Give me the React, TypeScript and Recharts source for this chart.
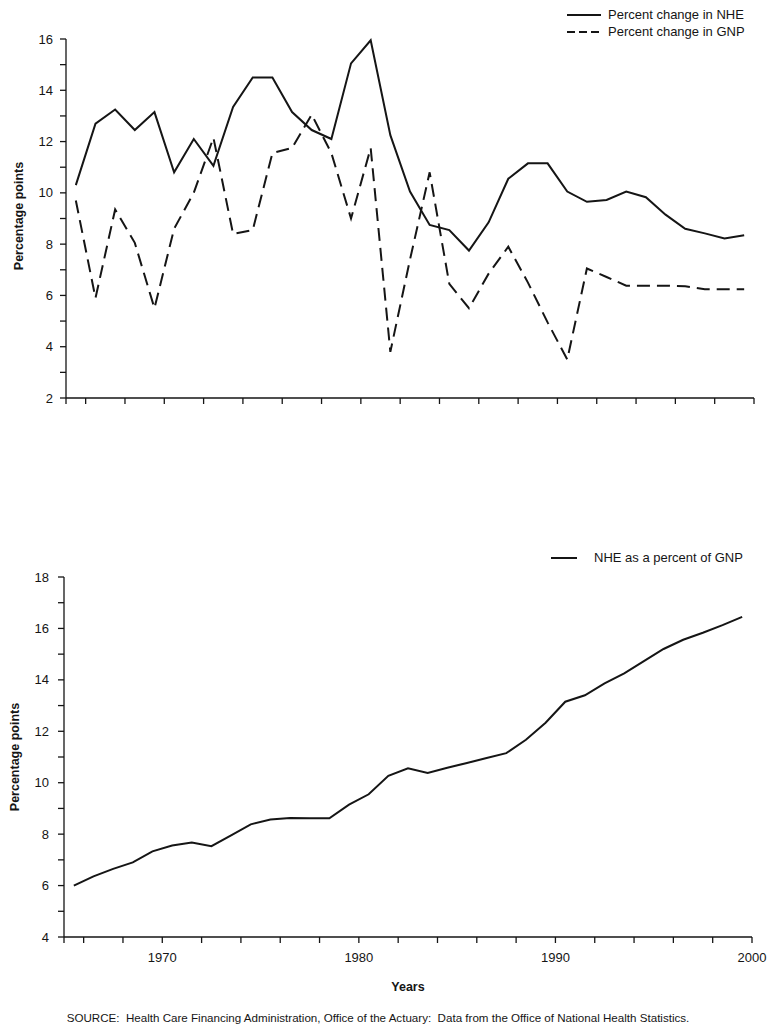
import React from 'react'
import { LineChart, Line, XAxis, YAxis } from 'recharts'

// data points sit in the middle of each year
const years = [
  1965, 1966, 1967, 1968, 1969, 1970, 1971, 1972, 1973, 1974,
  1975, 1976, 1977, 1978, 1979, 1980, 1981, 1982, 1983, 1984,
  1985, 1986, 1987, 1988, 1989, 1990, 1991, 1992, 1993, 1994,
  1995, 1996, 1997, 1998, 1999,
]

const nheChange = [
  10.3, 12.7, 13.25, 12.45, 13.15, 10.8, 12.1, 11.05, 13.35, 14.5,
  14.5, 13.15, 12.45, 12.1, 15.05, 15.95, 12.25, 10.05, 8.75, 8.55,
  7.75, 8.85, 10.55, 11.15, 11.15, 10.05, 9.65, 9.72, 10.05, 9.83,
  9.15, 8.6, 8.42, 8.22, 8.35,
]

const gnpChange = [
  9.7, 5.9, 9.35, 8.05, 5.5, 8.6, 10.0, 12.15, 8.4, 8.55,
  11.55, 11.75, 13.05, 11.55, 9.0, 11.75, 3.8, 7.4, 10.8, 6.45,
  5.5, 6.85, 7.9, 6.5, 4.95, 3.5, 7.05, 6.72, 6.38, 6.38,
  6.38, 6.36, 6.24, 6.24, 6.24,
]

const nhePctGnp = [
  6.0, 6.36, 6.65, 6.9, 7.33, 7.56, 7.67, 7.53, 7.95, 8.38,
  8.57, 8.63, 8.62, 8.62, 9.15, 9.55, 10.27, 10.56, 10.38, 10.58,
  10.77, 10.96, 11.15, 11.67, 12.33, 13.15, 13.4, 13.86, 14.25, 14.73,
  15.2, 15.56, 15.83, 16.13, 16.45,
]

const xTicks = [1965, 1966, 1968, 1970, 1972, 1974, 1976, 1978, 1980, 1982, 1984, 1986, 1988, 1990, 1992, 1994, 1996, 1998, 2000]
const topYTicks = [2, 3, 4, 5, 6, 7, 8, 9, 10, 11, 12, 13, 14, 15, 16]
const bottomYTicks = [4, 5, 6, 7, 8, 9, 10, 11, 12, 13, 14, 15, 16, 17, 18]
const xLabels = [1970, 1980, 1990, 2000]

const topData = years.map((y, i) => ({ x: y + 0.5, nhe: nheChange[i], gnp: gnpChange[i] }))
const bottomData = years.map((y, i) => ({ x: y + 0.5, share: nhePctGnp[i] }))

const FONT = '"Liberation Sans", Arial, Helvetica, sans-serif'
const INK = '#151515'
const axisLine = { stroke: INK, strokeWidth: 1.3 }
const tickFont = { fontSize: 13, fill: INK, fontFamily: FONT }

const evenOnly = (v: number) => (v % 2 === 0 ? String(v) : '')

export default function App() {
  return (
    <div style={{ position: 'absolute', left: 0, top: 0, width: 779, height: 1031, background: '#fff', fontFamily: FONT, color: INK }}>
      {/* top panel */}
      <div style={{ position: 'absolute', left: 0, top: 0 }}>
        <LineChart width={779} height={420} data={topData} margin={{ top: 39, right: 25, bottom: 0, left: 0 }}>
          <XAxis
            dataKey="x"
            type="number"
            domain={[1965, 2000]}
            ticks={xTicks}
            interval={0}
            tickFormatter={() => ''}
            axisLine={axisLine}
            tickLine={axisLine}
            tickSize={6}
            height={22}
          />
          <YAxis
            type="number"
            domain={[2, 16]}
            ticks={topYTicks}
            interval={0}
            tickFormatter={evenOnly}
            tick={tickFont}
            axisLine={axisLine}
            tickLine={axisLine}
            tickSize={6}
            tickMargin={7}
            width={66}
          />
          <Line type="linear" dataKey="nhe" stroke={INK} strokeWidth={2} dot={false} isAnimationActive={false} />
          <Line type="linear" dataKey="gnp" stroke={INK} strokeWidth={2} strokeDasharray="13 7" dot={false} isAnimationActive={false} />
        </LineChart>
      </div>

      {/* top legend */}
      <div style={{ position: 'absolute', left: 567, top: 6, fontSize: 13, lineHeight: '17px' }}>
        <div style={{ display: 'flex', alignItems: 'center', gap: 7 }}>
          <svg width="34" height="8">
            <line x1="0" y1="4" x2="34" y2="4" stroke={INK} strokeWidth="2" />
          </svg>
          Percent change in NHE
        </div>
        <div style={{ display: 'flex', alignItems: 'center', gap: 7 }}>
          <svg width="34" height="8">
            <line x1="0" y1="4" x2="34" y2="4" stroke={INK} strokeWidth="2" strokeDasharray="8 4" />
          </svg>
          Percent change in GNP
        </div>
      </div>

      <div style={{ position: 'absolute', left: 19, top: 216, transform: 'translate(-50%, -50%) rotate(-90deg)', fontSize: 12.5, fontWeight: 'bold', whiteSpace: 'nowrap' }}>
        Percentage points
      </div>

      {/* bottom panel */}
      <div style={{ position: 'absolute', left: 0, top: 520 }}>
        <LineChart width={779} height={480} data={bottomData} margin={{ top: 57, right: 27, bottom: 0, left: 0 }}>
          <XAxis
            dataKey="x"
            type="number"
            domain={[1965, 2000]}
            ticks={xTicks}
            interval={0}
            tickFormatter={(v: number) => (xLabels.includes(v) ? String(v) : '')}
            tick={tickFont}
            axisLine={axisLine}
            tickLine={axisLine}
            tickSize={6}
            tickMargin={10}
            height={63}
          />
          <YAxis
            type="number"
            domain={[4, 18]}
            ticks={bottomYTicks}
            interval={0}
            tickFormatter={evenOnly}
            tick={tickFont}
            axisLine={axisLine}
            tickLine={axisLine}
            tickSize={6}
            tickMargin={9}
            width={64}
          />
          <Line type="linear" dataKey="share" stroke={INK} strokeWidth={2} dot={false} isAnimationActive={false} />
        </LineChart>
      </div>

      {/* bottom legend */}
      <div style={{ position: 'absolute', left: 551, top: 549, fontSize: 13, lineHeight: '17px', display: 'flex', alignItems: 'center', gap: 17 }}>
        <svg width="26" height="8">
          <line x1="0" y1="4" x2="26" y2="4" stroke={INK} strokeWidth="2" />
        </svg>
        NHE as a percent of GNP
      </div>

      <div style={{ position: 'absolute', left: 15, top: 757, transform: 'translate(-50%, -50%) rotate(-90deg)', fontSize: 12.5, fontWeight: 'bold', whiteSpace: 'nowrap' }}>
        Percentage points
      </div>

      <div style={{ position: 'absolute', left: 408, top: 987, transform: 'translate(-50%, -50%)', fontSize: 12.5, fontWeight: 'bold' }}>
        Years
      </div>

      <div style={{ position: 'absolute', left: 378, top: 1017, transform: 'translate(-50%, -50%)', fontSize: 11.6, whiteSpace: 'nowrap' }}>
        SOURCE:&nbsp; Health Care Financing Administration, Office of the Actuary:&nbsp; Data from the Office of National Health Statistics.
      </div>
    </div>
  )
}
